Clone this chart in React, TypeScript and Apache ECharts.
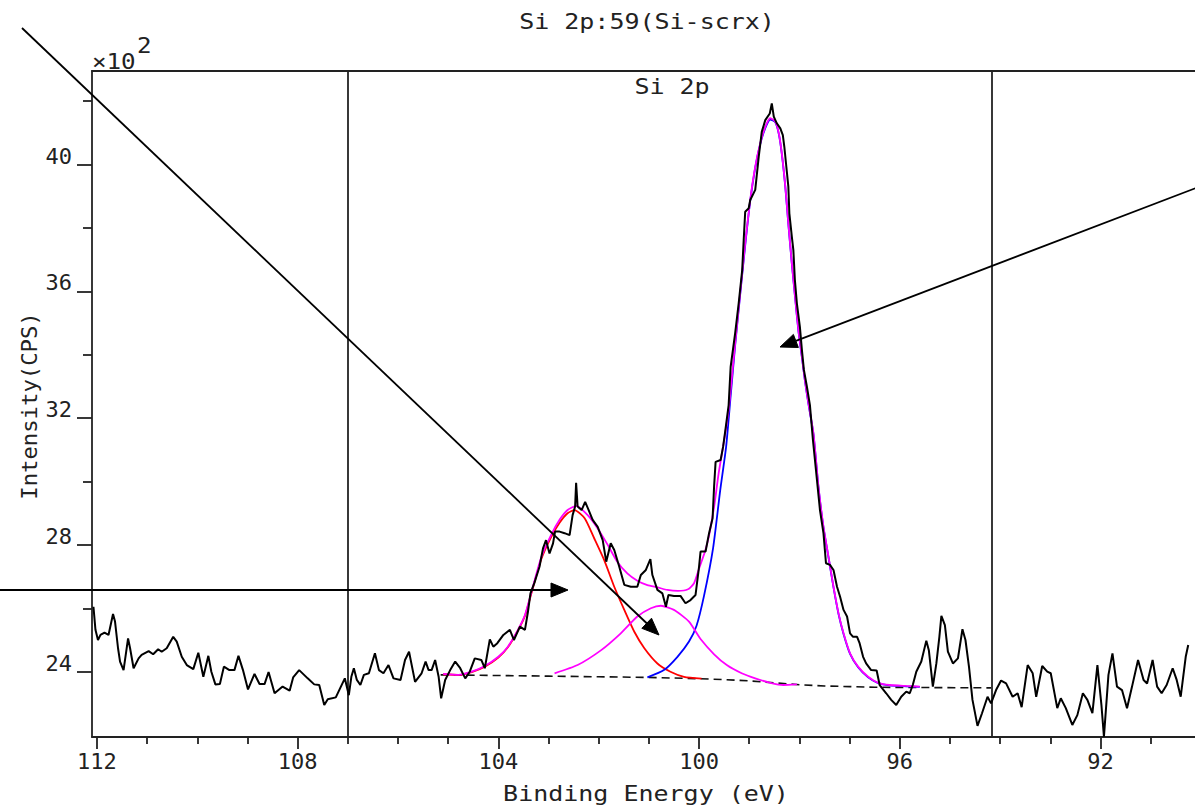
import React, { useEffect, useRef } from "react";
import * as echarts from "echarts";

// Measured spectrum: [binding energy (eV), intensity (x10^2 CPS)]
const spectrumPoints: number[][] = [
  [112.07,26.05],[112.03,25.32],[111.98,25.00],[111.93,25.16],[111.85,25.23],[111.77,25.16],[111.68,25.82],[111.64,25.58],[111.58,24.74],[111.54,24.32],
  [111.47,24.05],[111.38,25.05],[111.34,24.74],[111.27,24.11],[111.17,24.42],[111.11,24.53],[110.97,24.65],[110.88,24.55],[110.78,24.71],[110.71,24.63],
  [110.61,24.74],[110.48,25.10],[110.41,24.95],[110.31,24.47],[110.21,24.21],[110.08,24.08],[109.98,24.60],[109.88,23.84],[109.78,24.50],[109.72,24.00],
  [109.64,23.60],[109.55,23.61],[109.47,24.16],[109.36,24.05],[109.26,24.05],[109.18,24.50],[109.09,24.05],[108.99,23.44],[108.86,23.93],[108.76,23.61],
  [108.66,23.61],[108.58,23.99],[108.46,23.32],[108.30,23.53],[108.16,23.40],[108.09,23.82],[107.97,24.05],[107.80,23.79],[107.67,23.60],[107.57,23.58],
  [107.47,22.95],[107.40,23.13],[107.24,23.19],[107.06,23.79],[106.98,23.26],[106.93,23.84],[106.88,24.11],[106.82,23.74],[106.75,23.58],[106.68,23.90],
  [106.58,23.95],[106.46,24.58],[106.38,24.05],[106.29,23.95],[106.19,24.21],[106.09,23.79],[105.95,23.74],[105.86,24.37],[105.78,24.63],[105.66,23.68],
  [105.53,23.95],[105.45,24.32],[105.39,24.05],[105.33,24.05],[105.26,24.37],[105.19,23.84],[105.14,23.16],[105.06,23.74],[104.96,24.05],[104.86,24.32],
  [104.76,24.11],[104.66,23.79],[104.57,24.00],[104.47,24.42],[104.34,24.37],[104.27,24.11],[104.17,25.02],[104.10,24.79],[104.02,24.90],[103.90,25.16],
  [103.77,25.32],[103.69,25.00],[103.57,25.42],[103.47,25.32],[103.41,25.89],[103.36,26.47],[103.28,26.81],[103.18,27.31],[103.11,27.89],[103.05,28.15],
  [102.98,27.73],[102.91,28.05],[102.87,28.42],[102.78,28.42],[102.68,28.37],[102.58,28.31],[102.52,28.94],[102.47,29.21],[102.45,29.96],[102.42,29.21],
  [102.34,29.10],[102.27,29.36],[102.20,29.10],[102.12,28.79],[102.02,28.57],[101.92,28.15],[101.85,27.47],[101.76,28.05],[101.69,27.84],[101.59,27.31],
  [101.49,26.74],[101.36,26.68],[101.23,26.68],[101.16,27.05],[101.06,27.21],[100.97,27.55],[100.93,27.05],[100.83,26.58],[100.73,26.47],[100.66,26.05],
  [100.61,26.42],[100.50,26.39],[100.37,26.39],[100.27,26.16],[100.17,26.26],[100.07,26.42],[100.00,27.31],[99.97,27.79],[99.87,27.79],[99.80,28.37],
  [99.73,28.84],[99.70,29.84],[99.67,30.62],[99.57,30.68],[99.52,31.10],[99.47,31.68],[99.41,32.41],[99.37,33.62],[99.28,34.68],[99.21,35.62],
  [99.14,36.67],[99.11,37.62],[99.08,38.51],[99.01,38.62],[98.98,38.88],[98.88,39.20],[98.81,40.25],[98.75,41.03],[98.68,41.40],[98.59,41.61],
  [98.55,41.93],[98.51,41.51],[98.45,41.30],[98.38,41.14],[98.33,40.93],[98.30,40.56],[98.26,39.93],[98.22,39.30],[98.20,38.46],[98.15,37.72],
  [98.12,37.30],[98.09,36.36],[98.05,35.62],[97.99,34.88],[97.95,34.15],[97.91,33.52],[97.85,32.99],[97.79,32.41],[97.73,31.31],[97.69,30.68],
  [97.65,30.05],[97.59,29.10],[97.52,28.37],[97.47,27.42],[97.39,27.37],[97.32,27.21],[97.25,26.68],[97.19,26.37],[97.12,25.95],[97.05,25.74],
  [96.99,25.21],[96.93,25.10],[96.85,25.10],[96.80,24.90],[96.73,24.47],[96.67,24.26],[96.57,24.05],[96.46,24.04],[96.40,23.58],[96.27,23.32],
  [96.17,23.11],[96.07,22.95],[95.97,23.21],[95.87,23.37],[95.80,23.32],[95.74,23.58],[95.67,24.00],[95.57,24.32],[95.47,24.98],[95.42,24.68],
  [95.34,23.53],[95.27,24.26],[95.21,25.10],[95.17,25.76],[95.10,25.47],[95.04,24.63],[94.94,24.26],[94.84,24.42],[94.75,25.34],[94.69,25.00],
  [94.62,24.16],[94.55,23.11],[94.45,22.29],[94.36,22.69],[94.25,23.21],[94.18,23.00],[94.08,23.42],[93.98,23.72],[93.88,23.63],[93.75,23.21],
  [93.65,23.32],[93.57,22.88],[93.45,24.21],[93.35,23.95],[93.28,23.21],[93.16,24.18],[93.06,24.00],[92.99,23.95],[92.86,22.85],[92.79,23.16],
  [92.69,22.85],[92.56,22.32],[92.46,22.63],[92.35,23.32],[92.26,23.11],[92.16,22.69],[92.06,24.21],[91.98,22.95],[91.93,21.95],[91.84,23.90],
  [91.76,24.58],[91.67,23.53],[91.57,23.42],[91.47,22.85],[91.37,23.53],[91.25,24.37],[91.14,23.74],[91.07,23.63],[90.96,24.37],[90.87,23.53],
  [90.78,23.32],[90.68,23.58],[90.56,24.11],[90.48,23.74],[90.40,23.21],[90.30,24.47],[90.25,24.84],
];

// Background (dashed)
const backgroundPoints: number[][] = [
  [105.15,23.90],[104.0,23.88],[103.0,23.86],[102.0,23.84],[101.0,23.82],[100.0,23.78],[99.5,23.75],[99.0,23.71],
  [98.5,23.65],[98.0,23.59],[97.5,23.55],[97.0,23.53],[96.5,23.51],[95.5,23.50],[94.18,23.49],
];

// Component at ~102.5 eV (red)
const oxidePoints: number[][] = [
  [105.10,23.92],[104.80,23.90],[104.53,23.99],[104.27,24.16],[104.00,24.45],[103.81,24.77],[103.61,25.30],[103.47,25.76],
  [103.34,26.48],[103.14,27.57],[102.95,28.24],[102.78,28.70],[102.62,29.00],[102.48,29.10],[102.28,28.84],[102.09,28.21],
  [101.89,27.52],[101.69,26.68],[101.49,25.95],[101.29,25.26],[101.09,24.74],[100.83,24.26],[100.57,24.00],[100.30,23.84],[99.95,23.78],
];

// Component at ~100.8 eV (magenta)
const suboxidePoints: number[][] = [
  [102.88,23.95],[102.42,24.21],[101.95,24.68],[101.56,25.21],[101.23,25.74],[100.96,26.00],[100.76,26.08],[100.50,25.95],
  [100.20,25.58],[99.97,25.03],[99.70,24.55],[99.44,24.20],[99.15,23.95],[98.88,23.79],[98.58,23.65],[98.32,23.58],[98.05,23.60],
];

// Component at ~98.5 eV (blue)
const siliconPoints: number[][] = [
  [101.03,23.82],[100.70,24.05],[100.43,24.47],[100.20,24.95],[100.05,25.45],[99.90,26.40],[99.72,27.90],[99.58,29.70],
  [99.46,31.10],[99.37,32.70],[99.28,34.30],[99.18,35.90],[99.08,37.45],[98.98,38.85],[98.88,39.90],[98.78,40.65],
  [98.68,41.15],[98.58,41.42],[98.48,41.33],[98.41,40.96],[98.35,40.33],[98.28,39.28],[98.22,38.12],[98.15,36.86],
  [98.08,35.71],[98.02,34.76],[97.95,33.92],[97.89,33.18],[97.82,32.45],[97.72,31.50],[97.62,29.82],[97.52,28.55],
  [97.42,27.61],[97.32,26.66],[97.22,25.82],[97.12,25.19],[96.99,24.56],[96.83,24.14],[96.63,23.82],[96.43,23.64],
  [96.20,23.57],[95.87,23.54],[95.60,23.52],
];

// Fitted envelope (magenta)
const envelopePoints: number[][] = [
  [105.10,23.93],[104.80,23.90],[104.53,24.00],[104.27,24.18],[104.00,24.47],[103.81,24.79],[103.61,25.32],[103.47,25.79],
  [103.34,26.52],[103.14,27.63],[102.95,28.31],[102.78,28.79],[102.62,29.10],[102.45,29.23],[102.22,28.94],[102.02,28.52],
  [101.82,28.00],[101.63,27.47],[101.43,27.10],[101.23,26.87],[101.03,26.73],[100.83,26.66],[100.63,26.58],[100.42,26.55],
  [100.22,26.60],[100.10,26.79],[100.00,27.25],[99.88,27.80],[99.80,28.30],[99.70,29.20],[99.61,30.25],[99.51,31.20],
  [99.41,32.26],[99.37,32.89],[99.28,34.36],[99.18,35.94],[99.08,37.51],[98.98,38.88],[98.88,39.93],[98.78,40.67],
  [98.68,41.19],[98.58,41.46],[98.48,41.35],[98.41,40.98],[98.35,40.35],[98.28,39.30],[98.22,38.14],[98.15,36.88],
  [98.08,35.73],[98.02,34.78],[97.95,33.94],[97.89,33.20],[97.82,32.47],[97.72,31.52],[97.62,29.84],[97.52,28.57],
  [97.42,27.63],[97.32,26.68],[97.22,25.84],[97.12,25.21],[96.99,24.58],[96.83,24.16],[96.63,23.84],[96.43,23.65],
  [96.20,23.58],[95.87,23.55],[95.60,23.53],
];

const regionMarkers = [107.0, 94.16];
const xMajorTicks = [92, 96, 100, 104, 108, 112];
const xMinorTicks = [91, 93, 94, 95, 97, 98, 99, 101, 102, 103, 105, 106, 107, 109, 110, 111];
const yMajorTicks = [24, 28, 32, 36, 40];
const yMinorTicks = [26, 30, 34, 38, 42];

const X_MIN = 90.115;
const X_MAX = 112.099;
const Y_MIN = 21.94;
const Y_MAX = 42.95;

const FONT = '"DejaVu Sans Mono", "Liberation Mono", monospace';
const INK = "#222";

function arrow(x1: number, y1: number, x2: number, y2: number) {
  const dx = x2 - x1;
  const dy = y2 - y1;
  const len = Math.sqrt(dx * dx + dy * dy);
  const ux = dx / len;
  const uy = dy / len;
  const L = 17;
  const H = 7;
  const bx = x2 - ux * L;
  const by = y2 - uy * L;
  const nx = -uy;
  const ny = ux;
  return [
    {
      type: "line",
      z: 100,
      silent: true,
      shape: { x1, y1, x2: bx, y2: by },
      style: { stroke: "#000", lineWidth: 1.8 },
    },
    {
      type: "polygon",
      z: 100,
      silent: true,
      shape: {
        points: [
          [x2, y2],
          [bx + nx * H, by + ny * H],
          [bx - nx * H, by - ny * H],
        ],
      },
      style: { fill: "#000", stroke: "#000", lineWidth: 1 },
    },
  ];
}

export default function App() {
  const ref = useRef<HTMLDivElement>(null);

  useEffect(() => {
    if (!ref.current) return;
    const chart = echarts.init(ref.current, undefined, { renderer: "svg" });

    const lineSeries = (name: string, data: number[][], color: string, width: number, z: number, extra: any = {}) => ({
      name,
      type: "line",
      data,
      xAxisIndex: 0,
      yAxisIndex: 0,
      showSymbol: false,
      symbol: "none",
      silent: true,
      z,
      lineStyle: { color, width, ...(extra.lineStyle || {}) },
      emphasis: { disabled: true },
      ...extra.rest,
    });

    const baseX = {
      type: "value",
      inverse: true,
      min: X_MIN,
      max: X_MAX,
      splitLine: { show: false },
    };
    const baseY = {
      type: "value",
      min: Y_MIN,
      max: Y_MAX,
      splitLine: { show: false },
    };

    const textStyle = (text: string, size = 21) => ({
      text,
      fontFamily: FONT,
      fontSize: size,
      fill: INK,
      align: "center",
      verticalAlign: "middle",
    });

    const option: any = {
      animation: false,
      backgroundColor: "#fff",
      grid: { left: 92, top: 71, width: 1108, height: 666, show: false },
      xAxis: [
        {
          ...baseX,
          position: "bottom",
          axisLine: { show: true, lineStyle: { color: INK, width: 1.8 } },
          axisTick: { show: true, customValues: xMajorTicks, length: 12, lineStyle: { color: INK, width: 1.8 } },
          axisLabel: { show: true, customValues: xMajorTicks, fontFamily: FONT, fontSize: 22, color: INK, margin: 13 },
        },
        {
          ...baseX,
          position: "bottom",
          offset: 0,
          axisLine: { show: false },
          axisTick: { show: true, customValues: xMinorTicks, length: 7, lineStyle: { color: INK, width: 1.8 } },
          axisLabel: { show: false },
        },
        {
          ...baseX,
          position: "top",
          axisLine: { show: true, lineStyle: { color: INK, width: 1.8 } },
          axisTick: { show: false },
          axisLabel: { show: false },
        },
      ],
      yAxis: [
        {
          ...baseY,
          position: "left",
          axisLine: { show: true, lineStyle: { color: INK, width: 1.8 } },
          axisTick: { show: true, customValues: yMajorTicks, length: 15, lineStyle: { color: INK, width: 1.8 } },
          axisLabel: {
            show: true,
            customValues: yMajorTicks,
            fontFamily: FONT,
            fontSize: 22,
            color: INK,
            margin: 20,
            verticalAlign: "bottom",
            lineHeight: 17,
          },
        },
        {
          ...baseY,
          position: "left",
          offset: 0,
          axisLine: { show: false },
          axisTick: { show: true, customValues: yMinorTicks, length: 9, lineStyle: { color: INK, width: 1.8 } },
          axisLabel: { show: false },
        },
      ],
      series: [
        lineSeries("Background", backgroundPoints, "#111", 1.6, 2, {
          lineStyle: { type: [8, 5] },
          rest: {
            markLine: {
              silent: true,
              symbol: ["none", "none"],
              label: { show: false },
              lineStyle: { color: INK, width: 1.8, type: "solid" },
              emphasis: { disabled: true },
              data: regionMarkers.map((v) => ({ xAxis: v })),
            },
          },
        }),
        lineSeries("Si oxide", oxidePoints, "#ff0000", 1.8, 3, { rest: { smooth: 0.2 } }),
        lineSeries("Si", siliconPoints, "#0000ff", 1.8, 4, { rest: { smooth: 0.2 } }),
        lineSeries("Suboxide", suboxidePoints, "#ff00ff", 1.8, 5, { rest: { smooth: 0.2 } }),
        lineSeries("Envelope", envelopePoints, "#ff00ff", 1.8, 6, { rest: { smooth: 0.2 } }),
        lineSeries("Si 2p", spectrumPoints, "#000", 2, 7),
      ],
      graphic: [
        { type: "text", x: 647, y: 22, scaleX: 1.19, silent: true, style: textStyle("Si 2p:59(Si-scrx)") },
        { type: "text", x: 672, y: 87, scaleX: 1.19, silent: true, style: textStyle("Si 2p") },
        {
          type: "text",
          x: 92,
          y: 61,
          scaleX: 1.1,
          silent: true,
          style: { ...textStyle("×10", 22), align: "left" },
        },
        {
          type: "text",
          x: 137,
          y: 45,
          scaleX: 1.1,
          silent: true,
          style: { ...textStyle("2", 22), align: "left" },
        },
        { type: "text", x: 646, y: 794, scaleX: 1.19, silent: true, style: textStyle("Binding Energy (eV)") },
        {
          type: "text",
          x: 30,
          y: 406,
          rotation: Math.PI / 2,
          scaleX: 1.06,
          silent: true,
          style: textStyle("Intensity(CPS)"),
        },
        ...arrow(22, 28, 659, 635),
        ...arrow(1196, 188, 780, 347),
        ...arrow(0, 590, 568, 590),
      ],
    };

    chart.setOption(option);
    return () => chart.dispose();
  }, []);

  return (
    <div
      ref={ref}
      style={{ position: "fixed", left: 0, top: 0, width: 1195, height: 807, background: "#fff" }}
    />
  );
}
